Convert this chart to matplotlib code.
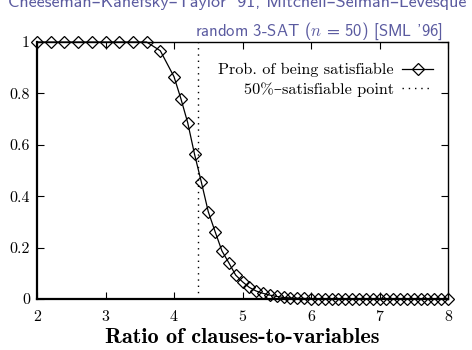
import matplotlib
matplotlib.use("Agg")
import matplotlib.pyplot as plt
from matplotlib.lines import Line2D

plt.rcParams['mathtext.fontset'] = 'cm'
plt.rcParams['axes.formatter.use_mathtext'] = True

# data
ratio = [2.0, 2.2, 2.4, 2.6, 2.8, 3.0, 3.2, 3.4, 3.6, 3.8,
         4.0, 4.1, 4.2, 4.3, 4.4, 4.5, 4.6, 4.7, 4.8, 4.9,
         5.0, 5.1, 5.2, 5.3, 5.4, 5.5, 5.6, 5.7, 5.8, 5.9,
         6.0, 6.1, 6.2, 6.3, 6.4, 6.5, 6.6, 6.7, 6.8, 6.9,
         7.0, 7.1, 7.2, 7.3, 7.4, 7.5, 7.6, 7.7, 7.8, 7.9, 8.0]
prob_sat = [1.0, 1.0, 1.0, 1.0, 1.0, 1.0, 1.0, 1.0, 1.0, 0.966,
            0.865, 0.78, 0.686, 0.563, 0.454, 0.34, 0.262, 0.187, 0.141, 0.093,
            0.067, 0.045, 0.031, 0.022, 0.015, 0.01, 0.006, 0.004, 0.003, 0.002,
            0.001, 0.001, 0.0, 0.0, 0.0, 0.0, 0.0, 0.0, 0.0, 0.0,
            0.0, 0.0, 0.0, 0.0, 0.0, 0.0, 0.0, 0.0, 0.0, 0.0, 0.0]
threshold = 4.35
xticks = [2, 3, 4, 5, 6, 7, 8]
xticklabels = ['2', '3', '4', '5', '6', '7', '8']
yticks = [0, 0.2, 0.4, 0.6, 0.8, 1.0]
yticklabels = ['0', '0.2', '0.4', '0.6', '0.8', '1']

serif = ['cmr10', 'DejaVu Serif']
blue = '#5b5ba0'

fig = plt.figure(figsize=(4.72, 3.5), dpi=100)
ax = fig.add_axes([37/472, 1 - 299/350, (448-37)/472, (299-42)/350])

ax.plot(ratio, prob_sat, color='black', lw=0.9, marker='D', ms=6.4,
        mfc='none', mec='black', mew=0.9, clip_on=False, zorder=3)
ax.axvline(threshold, color='black', lw=1.0, ls=(0, (1, 3.5)))

ax.set_xlim(2, 8)
ax.set_ylim(0, 1)
ax.set_xticks(xticks)
ax.set_xticklabels(xticklabels, family=serif, fontsize=11.5)
ax.set_yticks(yticks)
ax.set_yticklabels(yticklabels, family=serif, fontsize=11.5)
ax.tick_params(direction='in', length=5, width=0.8, top=True, right=True)
ax.tick_params(axis='x', pad=8)
ax.tick_params(axis='y', pad=5)
for s in ax.spines.values():
    s.set_linewidth(1.0)
ax.spines['left'].set_linewidth(1.6)
ax.spines['bottom'].set_linewidth(1.6)

ax.set_xlabel('Ratio of clauses-to-variables', family=['cmb10', 'DejaVu Serif'],
              fontsize=16, labelpad=3)

handles = [Line2D([], [], color='black', lw=0.9, marker='D', ms=6.4,
                  mfc='none', mec='black', mew=0.9),
           Line2D([], [], color='black', lw=1.0, ls=(0, (1, 3.5)))]
leg = fig.legend(handles, ['Prob. of being satisfiable', '50%–satisfiable point'],
                 loc='upper right', bbox_to_anchor=(433/472, 1 - 63/350),
                 bbox_transform=fig.transFigure,
                 frameon=False, markerfirst=False,
                 prop={'family': serif, 'size': 11.7}, handlelength=1.9,
                 handletextpad=0.5, borderaxespad=0, borderpad=0,
                 labelspacing=0.3, numpoints=1)
for t in leg.get_texts():
    t.set_ha('right')

fig.text(8/472, 1 - 7/350, "Cheeseman–Kanefsky–Taylor '91, Mitchell–Selman–Levesque '92",
         family=['cmss10', 'DejaVu Sans'], fontsize=13, color=blue, va='baseline', ha='left')
fig.text(443/472, 1 - 36/350, "random 3-SAT ($n$ = 50) [SML '96]",
         family=['cmss10', 'DejaVu Sans'], fontsize=12, color=blue, va='baseline', ha='right')

fig.savefig('out.png', dpi=100)
